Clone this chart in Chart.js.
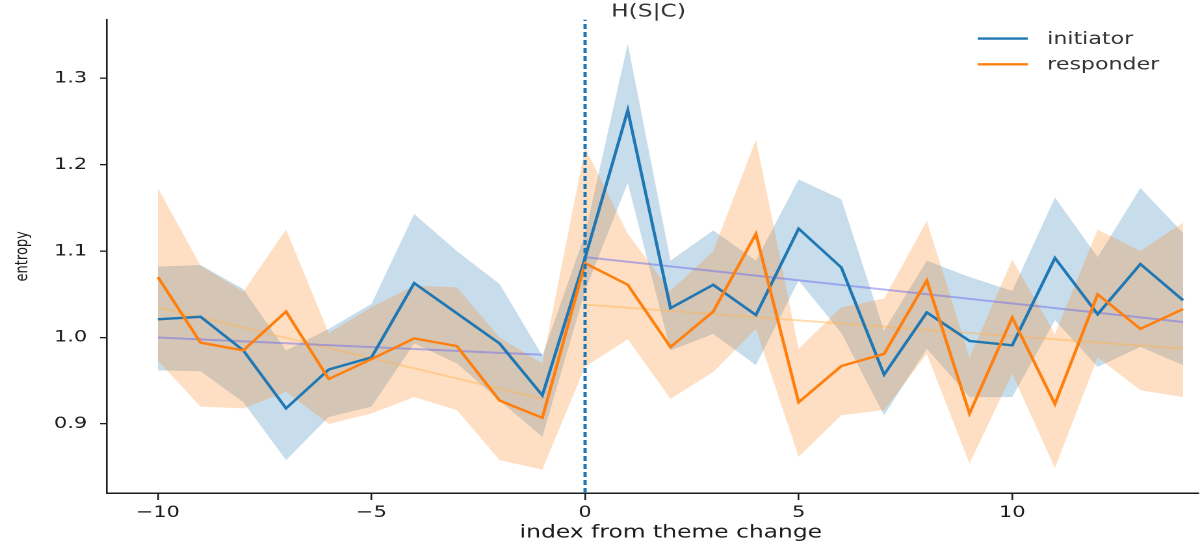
<!DOCTYPE html>
<html>
<head>
<meta charset="utf-8">
<script src="https://cdn.jsdelivr.net/npm/chart.js@4.4.1/dist/chart.umd.min.js"></script>
<style>
  html, body { margin: 0; padding: 0; background: #fff; overflow: hidden; }
  /* the source picture is stretched sideways, so draw narrow and widen */
  #wrap { width: 923px; height: 548px; transform: scaleX(1.3001); transform-origin: 0 0; }
</style>
</head>
<body>
<div id="wrap"><canvas id="chart" width="923" height="548"></canvas></div>
<script>
// index from theme change
const steps = [-10, -9, -8, -7, -6, -5, -4, -3, -2, -1, 0, 1, 2, 3, 4, 5, 6, 7, 8, 9, 10, 11, 12, 13, 14];

// initiator mean entropy + confidence band
const initiator     = [1.021, 1.024, 0.985, 0.918, 0.963, 0.977, 1.063, 1.028, 0.993, 0.933, 1.092, 1.263, 1.034, 1.061, 1.026, 1.126, 1.081, 0.957, 1.029, 0.996, 0.991, 1.092, 1.027, 1.085, 1.043];
const initiatorLow  = [0.962, 0.961, 0.925, 0.858, 0.908, 0.920, 0.993, 0.970, 0.927, 0.885, 1.054, 1.179, 0.985, 1.004, 0.968, 1.066, 1.005, 0.910, 0.987, 0.931, 0.931, 1.020, 0.966, 0.989, 0.968];
const initiatorHigh = [1.082, 1.084, 1.056, 0.985, 1.010, 1.039, 1.143, 1.100, 1.062, 0.979, 1.120, 1.340, 1.089, 1.124, 1.089, 1.183, 1.160, 1.008, 1.089, 1.070, 1.054, 1.162, 1.093, 1.173, 1.121];

// responder mean entropy + confidence band
const responder     = [1.070, 0.994, 0.985, 1.030, 0.952, 0.975, 0.999, 0.990, 0.927, 0.907, 1.086, 1.061, 0.989, 1.030, 1.120, 0.925, 0.967, 0.981, 1.066, 0.912, 1.023, 0.923, 1.050, 1.010, 1.033];
const responderLow  = [0.973, 0.920, 0.918, 0.937, 0.900, 0.912, 0.931, 0.916, 0.858, 0.847, 0.966, 0.998, 0.929, 0.960, 1.010, 0.862, 0.910, 0.916, 0.981, 0.854, 0.958, 0.849, 0.977, 0.939, 0.931];
const responderHigh = [1.173, 1.083, 1.053, 1.125, 1.005, 1.035, 1.060, 1.058, 1.000, 0.970, 1.220, 1.120, 1.054, 1.100, 1.229, 0.987, 1.035, 1.045, 1.135, 0.977, 1.090, 1.004, 1.125, 1.100, 1.133];

// fitted trends before / after the change (start, end)
const trendBeforeX = [-10, -1];
const trendAfterX = [0, 14];
const initTrendBefore = [1.000, 0.980];
const initTrendAfter = [1.093, 1.018];
const respTrendBefore = [1.035, 0.929];
const respTrendAfter = [1.038, 0.987];

const changeAt = 0;
const xRange = [-11.2, 14.35];
const yRange = [0.82, 1.368];

const BLUE = '#1f77b4';
const ORANGE = '#ff7f0e';
const INK = '#1c1c1c';

Chart.defaults.font.family = '"DejaVu Sans", sans-serif';
Chart.defaults.color = INK;

const pts = (xs, ys) => xs.map((x, i) => ({ x: x, y: ys[i] }));

function lineSet(data, color, width, order) {
  return { data: data, borderColor: color, borderWidth: width, pointRadius: 0, tension: 0, fill: false, order: order };
}

function bandSet(data, fillTarget, color, order) {
  return {
    data: data, borderWidth: 0, borderColor: 'transparent', pointRadius: 0, tension: 0,
    fill: fillTarget === null ? false : { target: fillTarget }, backgroundColor: color, order: order
  };
}

const minus = v => (v < 0 ? '\u2212' + Math.abs(v) : String(v));

// legend, title and x label drawn on the canvas
const decor = {
  id: 'decor',
  afterDraw(chart) {
    const { ctx, chartArea } = chart;
    ctx.save();
    ctx.textBaseline = 'middle';

    ctx.font = '18px "DejaVu Sans"';
    ctx.fillStyle = '#333';
    ctx.fillText('H(S|C)', 470, 12);

    ctx.textAlign = 'center';
    ctx.fillStyle = INK;
    ctx.fillText('index from theme change', 516, 533);
    ctx.textAlign = 'left';

    const items = [['initiator', BLUE], ['responder', ORANGE]];
    ctx.font = '17px "DejaVu Sans"';
    items.forEach((it, i) => {
      const y = chartArea.top + 19 + i * 25.7;
      const x0 = chartArea.right - 169.5;
      ctx.strokeStyle = it[1];
      ctx.lineWidth = 2.4;
      ctx.beginPath();
      ctx.moveTo(x0, y);
      ctx.lineTo(x0 + 38.5, y);
      ctx.stroke();
      ctx.fillStyle = '#333';
      ctx.fillText(it[0], x0 + 53.5, y + 1);
    });
    ctx.restore();
  }
};

const chart = new Chart(document.getElementById('chart'), {
  type: 'line',
  data: {
    datasets: [
      Object.assign(lineSet(pts([changeAt, changeAt], yRange), BLUE, 2.5, 0), { borderDash: [5, 3] }),
      lineSet(pts(steps, responder), ORANGE, 2.4, 1),
      lineSet(pts(steps, initiator), BLUE, 2.4, 2),
      lineSet(pts(trendBeforeX, initTrendBefore), 'rgba(110, 110, 235, 0.5)', 2, 3),
      lineSet(pts(trendAfterX, initTrendAfter), 'rgba(110, 110, 235, 0.5)', 2, 3),
      lineSet(pts(trendBeforeX, respTrendBefore), 'rgba(255, 180, 80, 0.45)', 2, 4),
      lineSet(pts(trendAfterX, respTrendAfter), 'rgba(255, 180, 80, 0.45)', 2, 4),
      bandSet(pts(steps, initiatorLow), null, 'transparent', 11),
      bandSet(pts(steps, initiatorHigh), 7, 'rgba(31, 119, 180, 0.25)', 11),
      bandSet(pts(steps, responderLow), null, 'transparent', 10),
      bandSet(pts(steps, responderHigh), 9, 'rgba(255, 127, 14, 0.25)', 10)
    ]
  },
  options: {
    responsive: false,
    devicePixelRatio: 2,
    animation: false,
    events: [],
    layout: { padding: { left: 6, right: 1.5, top: 17, bottom: 0 } },
    plugins: { legend: { display: false }, tooltip: { enabled: false } },
    scales: {
      x: {
        type: 'linear',
        min: xRange[0],
        max: xRange[1],
        afterFit: s => { s.height = 55; },
        grid: { drawOnChartArea: false, drawTicks: true, tickLength: 7, color: INK, lineWidth: 1.3 },
        border: { display: true, color: INK, width: 1.5 },
        ticks: { stepSize: 5, includeBounds: false, padding: 3, maxRotation: 0, font: { size: 16 }, color: INK, callback: v => minus(v) },
        title: { display: false }
      },
      y: {
        min: yRange[0],
        max: yRange[1],
        afterFit: s => { s.width = 76; },
        grid: { drawOnChartArea: false, drawTicks: true, tickLength: 5, color: INK, lineWidth: 1.3 },
        border: { display: true, color: INK, width: 1.3 },
        ticks: { stepSize: 0.1, includeBounds: false, padding: 10, font: { size: 16 }, color: INK, callback: v => v.toFixed(1) },
        title: { display: true, text: 'entropy', font: { size: 13 }, color: INK, padding: { top: 4, bottom: 4 } }
      }
    }
  },
  plugins: [decor]
});
</script>
</body>
</html>
